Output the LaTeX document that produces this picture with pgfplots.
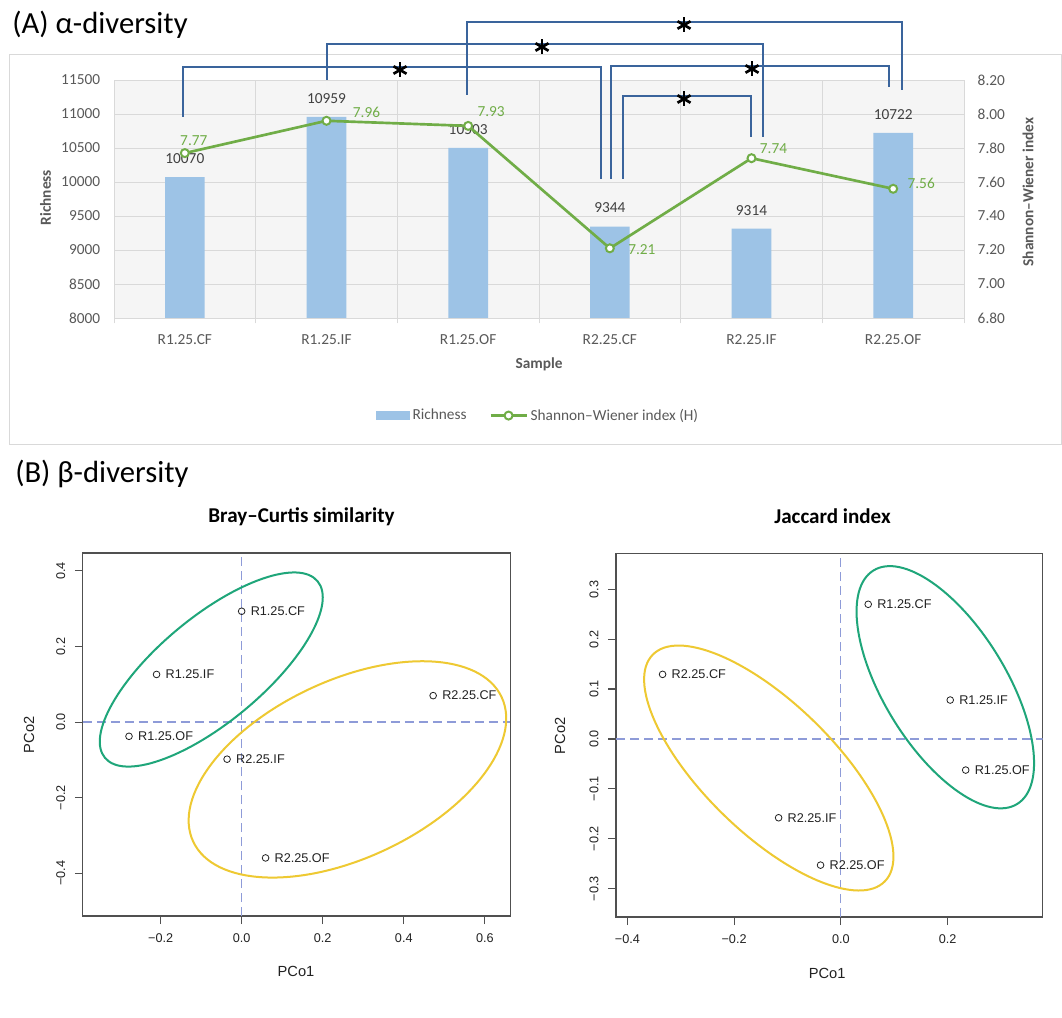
\documentclass[border=0pt]{standalone}
\usepackage{pgfplots}
\pgfplotsset{compat=1.18}
\usepackage{fontspec}
\setmainfont{Carlito}
\newfontfamily\helv{Liberation Sans}
\definecolor{barblue}{HTML}{9DC3E6}
\definecolor{sgreen}{HTML}{70AD47}
\definecolor{gridgray}{HTML}{D9D9D9}
\definecolor{ticktext}{HTML}{595959}
\definecolor{barlab}{HTML}{404040}
\definecolor{brk}{HTML}{3A649C}
\definecolor{ellgreen}{HTML}{1FA67A}
\definecolor{ellyellow}{HTML}{EEC932}
\definecolor{dashcol}{HTML}{8E9BD8}
\definecolor{rgray}{HTML}{505050}
\definecolor{rtext}{HTML}{222222}
\newcommand\tfont{\fontsize{11.5}{13}\selectfont}
\newcommand\rfont{\helv\fontsize{9.5}{11}\selectfont}
\newcommand\sigstar[2]{%
  \draw[black, line width=2pt] (#1,#2+4.5) -- (#1,#2-10.5);
  \draw[black, line width=2pt] (#1-6.5,#2+0.75) -- (#1+6.5,#2-6.75);
  \draw[black, line width=2pt] (#1-6.5,#2-6.75) -- (#1+6.5,#2+0.75);}
\pgfplotsset{
  pcoa/.style={
    scale only axis, anchor=south west,
    axis line style={draw=rgray, line width=0.9pt},
    tick style={draw=rgray, line width=0.9pt},
    tick align=outside, major tick length=6pt, tick pos=left,
    scaled ticks=false,
    ticklabel style={font=\rfont, text=rtext},
    xticklabel style={anchor=center, yshift=-10.5pt},
    yticklabel style={rotate=90, anchor=center},
    yticklabel shift=10.5pt,
    label style={font=\helv\fontsize{11}{13}\selectfont, text=rtext},
    xlabel={PCo1}, ylabel={PCo2},
  },
  pts/.style={only marks, mark=o, mark size=2.5pt,
    mark options={draw=rtext, line width=0.6pt},
    nodes near coords, point meta=explicit symbolic,
    every node near coord/.append style={anchor=west, xshift=3.2pt, font=\rfont, text=rtext}},
  dsh/.style={dashcol, dash pattern=on 7pt off 3.5pt, line width=1pt, forget plot},
}
\begin{document}
\begin{tikzpicture}[x=0.75pt,y=0.75pt]
\useasboundingbox (0,0) rectangle (1062,1017);
\fill[white] (0,0) rectangle (1062,1017);
% ---------- Panel A ----------
\draw[gridgray, line width=0.75pt] (9.5,572) rectangle (1061,962);
\node[anchor=west, inner sep=0pt, font=\fontsize{23}{26}\selectfont] at (12,992) {(A) α-diversity};

\begin{axis}[
  at={(85.5pt,524.25pt)}, anchor=south west, scale only axis, width=637.5pt, height=178.5pt,
  xmin=-0.5, xmax=5.5, ymin=8000, ymax=11500,
  scaled ticks=false,
  axis line style={draw=none},
  xtick={0,...,5}, xticklabels={R1.25.CF,R1.25.IF,R1.25.OF,R2.25.CF,R2.25.IF,R2.25.OF},
  minor xtick={-0.5,0.5,1.5,2.5,3.5,4.5,5.5},
  ytick={8000,8500,9000,9500,10000,10500,11000,11500},
  yticklabels={8000,8500,9000,9500,10000,10500,11000,11500},
  tick pos=left, tick align=outside, major tick length=0pt, minor tick length=4pt,
  minor x tick style={draw=gridgray, line width=0.75pt},
  ymajorgrids, xminorgrids,
  major grid style={draw=gridgray, line width=0.6pt},
  minor grid style={draw=gridgray, line width=0.6pt},
  axis background/.style={fill=black!4},
  ticklabel style={font=\tfont, text=ticktext},
  xticklabel style={yshift=-8.6pt},
  yticklabel style={xshift=-6.9pt},
  xlabel={\textbf{Sample}}, ylabel={\textbf{Richness}},
  xlabel style={at={(axis description cs:0.5,-0.193)}, anchor=center, font=\tfont, text=ticktext},
  ylabel style={at={(axis description cs:-0.0805,0.506)}, anchor=center, font=\tfont, text=ticktext},
  clip=false,
]
\addplot[ybar, bar width=0.28, fill=barblue, draw=none,
  nodes near coords, point meta=explicit symbolic,
  every node near coord/.append style={anchor=center, yshift=13.9pt, font=\tfont, text=barlab}]
  table[meta=lab]{
x y lab
0 10070 10070
1 10959 10959
2 10503 10503
3 9344 9344
4 9314 9314
5 10722 10722
};
\end{axis}

\begin{axis}[
  at={(85.5pt,524.25pt)}, anchor=south west, scale only axis, width=637.5pt, height=178.5pt,
  xmin=-0.5, xmax=5.5, ymin=6.8, ymax=8.2,
  hide x axis, axis line style={draw=none},
  ytick={6.8,7,7.2,7.4,7.6,7.8,8,8.2},
  yticklabels={6.80,7.00,7.20,7.40,7.60,7.80,8.00,8.20},
  ytick pos=right, yticklabel pos=right, major tick length=0pt,
  ticklabel style={font=\tfont, text=ticktext},
  yticklabel style={xshift=6.75pt},
  ylabel={\textbf{Shannon–Wiener index}},
  ylabel style={at={(axis description cs:1.0753,0.529)}, anchor=center, font=\tfont, text=ticktext},
  clip=false,
  legend columns=2, legend cell align=left,
  legend style={at={(0.4995,-0.41)}, anchor=center, draw=none, fill=none,
    font=\tfont, text=ticktext,
    /tikz/every even column/.append style={column sep=15pt}},
]
\addlegendimage{legend image code/.code={\fill[barblue] (0pt,-3pt) rectangle (24.75pt,3pt);}}
\addlegendentry{Richness}
\addplot[sgreen, line width=2pt, mark=*, mark size=3pt,
  mark options={fill=white, draw=sgreen, line width=1.5pt},
  nodes near coords, point meta=explicit symbolic,
  visualization depends on=value \thisrow{dx} \as \dx,
  visualization depends on=value \thisrow{dy} \as \dy,
  every node near coord/.append style={anchor=center, xshift=\dx pt, yshift=\dy pt, font=\tfont, text=sgreen},
  legend image code/.code={\draw[sgreen, line width=2pt] (0pt,0pt) -- (27pt,0pt);
    \draw[sgreen, line width=1.5pt, fill=white] (13.5pt,0pt) circle (3pt);}]
  table[meta=lab]{
x y dx dy lab
0 7.77 6.75 9 7.77
1 7.96 30 6.6 7.96
2 7.93 17.25 10.4 7.93
3 7.21 24 -1.3 7.21
4 7.74 16.5 6.9 7.74
5 7.56 21 4 7.56
};
\addlegendentry{Shannon–Wiener index (H)}
\end{axis}

% significance brackets
\draw[brk, line width=1.4pt] (183,900) -- (183,950) -- (601,950) -- (601,838);
\draw[brk, line width=1.4pt] (327,937) -- (327,973) -- (763,973) -- (763,880);
\draw[brk, line width=1.4pt] (467,922) -- (467,995) -- (902,995) -- (902,927);
\draw[brk, line width=1.4pt] (611,838) -- (611,951) -- (889,951) -- (889,930);
\draw[brk, line width=1.4pt] (623,838) -- (623,921) -- (751,921) -- (751,880);
\sigstar{400}{950}
\sigstar{542}{973}
\sigstar{684}{995}
\sigstar{752}{951}
\sigstar{684}{921}

% ---------- Panel B ----------
\node[anchor=west, inner sep=0pt, font=\fontsize{23}{26}\selectfont] at (15,543) {(B) β-diversity};
\node[font=\bfseries\fontsize{15.8}{18}\selectfont] at (301.5,500.5) {Bray–Curtis similarity};
\node[font=\bfseries\fontsize{15.8}{18}\selectfont] at (832.5,500.5) {Jaccard index};

\begin{axis}[pcoa, at={(62.1pt,75.75pt)}, width=320.5pt, height=272.25pt,
  xmin=-0.392, xmax=0.6625, ymin=-0.5125, ymax=0.447,
  xtick={-0.2,0,0.2,0.4,0.6}, xticklabels={−0.2,0.0,0.2,0.4,0.6},
  ytick={-0.4,-0.2,0,0.2,0.4}, yticklabels={−0.4,−0.2,0.0,0.2,0.4},
  xlabel style={at={(axis description cs:0.499,-0.154)}, anchor=center},
  ylabel style={at={(axis description cs:-0.126,0.4986)}, anchor=center},
]
\addplot[dsh] coordinates {(0,-0.5125) (0,0.447)};
\addplot[dsh] coordinates {(-0.392,0) (0.6625,0)};
\addplot[pts] table[meta=lab]{
x y lab
0.000 0.293 R1.25.CF
-0.210 0.126 R1.25.IF
-0.278 -0.0375 R1.25.OF
0.4725 0.070 R2.25.CF
-0.036 -0.098 R2.25.IF
0.059 -0.359 R2.25.OF
};
\coordinate (gL) at (axis cs:-0.075,0.139);
\coordinate (yL) at (axis cs:0.261,-0.125);
\end{axis}
\draw[ellgreen, line width=1.5pt, shift={(gL)}, rotate=39.7] (0,0) ellipse [x radius=138.2, y radius=52.4];
\draw[ellyellow, line width=1.5pt, shift={(yL)}, rotate=25.1] (0,0) ellipse [x radius=170.3, y radius=88.9];

\begin{axis}[pcoa, at={(462pt,75pt)}, width=319.9pt, height=272.5pt,
  xmin=-0.4213, xmax=0.378, ymin=-0.357, ymax=0.3715,
  xtick={-0.4,-0.2,0,0.2}, xticklabels={−0.4,−0.2,0.0,0.2},
  ytick={-0.3,-0.2,-0.1,0,0.1,0.2,0.3}, yticklabels={−0.3,−0.2,−0.1,0.0,0.1,0.2,0.3},
  xlabel style={at={(axis description cs:0.495,-0.154)}, anchor=center},
  ylabel style={at={(axis description cs:-0.131,0.4986)}, anchor=center},
]
\addplot[dsh] coordinates {(0,-0.357) (0,0.3715)};
\addplot[dsh] coordinates {(-0.4213,0) (0.378,0)};
\addplot[pts] table[meta=lab]{
x y lab
0.0513 0.270 R1.25.CF
0.205 0.078 R1.25.IF
0.234 -0.0624 R1.25.OF
-0.334 0.1295 R2.25.CF
-0.1166 -0.158 R2.25.IF
-0.038 -0.253 R2.25.OF
};
\coordinate (gR) at (axis cs:0.1958,0.1037);
\coordinate (yR) at (axis cs:-0.135,-0.0583);
\end{axis}
\draw[ellgreen, line width=1.5pt, shift={(gR)}, rotate=-58.4] (0,0) ellipse [x radius=137.1, y radius=61.2];
\draw[ellyellow, line width=1.5pt, shift={(yR)}, rotate=-44.3] (0,0) ellipse [x radius=162.2, y radius=65];
\end{tikzpicture}
\end{document}
